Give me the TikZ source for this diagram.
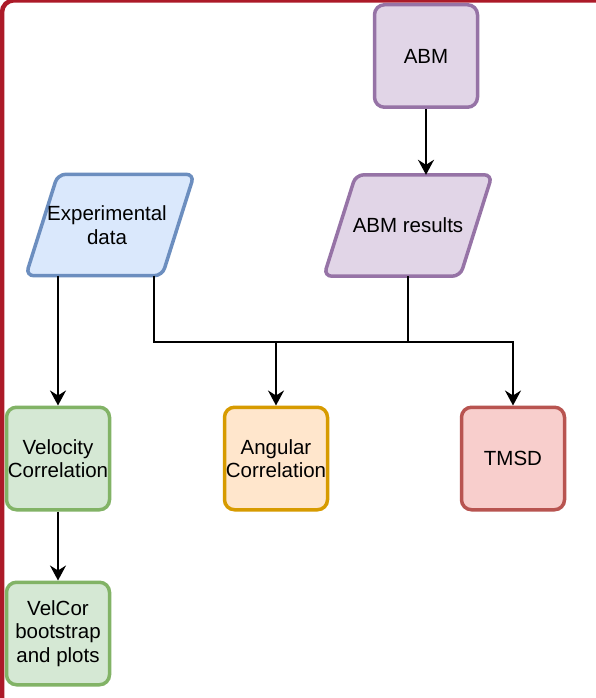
\documentclass[tikz,border=0pt]{standalone}
\usepackage{fontspec}
\setmainfont{Liberation Sans}
\usetikzlibrary{arrows.meta,calc}
\definecolor{framecol}{RGB}{172,26,40}
\definecolor{purfill}{HTML}{E1D5E7}
\definecolor{purline}{HTML}{9673A6}
\definecolor{bluefill}{HTML}{DAE8FC}
\definecolor{blueline}{HTML}{6C8EBF}
\definecolor{greenfill}{HTML}{D5E8D4}
\definecolor{greenline}{HTML}{82B366}
\definecolor{orfill}{HTML}{FFE6CC}
\definecolor{orline}{HTML}{D79B00}
\definecolor{redfill}{HTML}{F8CECC}
\definecolor{redline}{HTML}{B85450}
\tikzset{
  lbl/.style={font=\fontsize{20.5}{23.5}\selectfont, align=center, text=black},
  boxnode/.style={lbl, rectangle, rounded corners=10pt, minimum width=103pt, minimum height=102.5pt, line width=3.5pt, inner sep=1pt},
  datanode/.style={lbl, rectangle, minimum width=168pt, minimum height=101pt, inner sep=1pt},
  databorder/.style={line width=3.5pt, rounded corners=8pt},
  arr/.style={draw=black, line width=2pt, -{Stealth[length=15pt,width=16pt,inset=5pt]}},
  ln/.style={draw=black, line width=2pt}
}
\begin{document}
\begin{tikzpicture}[x=1pt,y=-1pt]
\useasboundingbox (0,0) rectangle (596,698);
\fill[white] (0,0) rectangle (596,698);
\begin{scope}
\clip (0,0) rectangle (596,698);
\draw[framecol, line width=4.5pt, rounded corners=12pt] (2,720) -- (2,0.3) -- (640,0.3);
\end{scope}
\node[boxnode, draw=purline, fill=purfill] (abm) at (426,56) {ABM};
\node[datanode] (res) at (408,225.5) {};
\draw[databorder, draw=purline, fill=purfill] (res.south west) -- ([xshift=32pt]res.north west) -- (res.north east) -- ([xshift=-32pt]res.south east) -- cycle;
\node[lbl] at (res) {ABM results};
\node[datanode] (exp) at (110,225) {};
\draw[databorder, draw=blueline, fill=bluefill] (exp.south west) -- ([xshift=32pt]exp.north west) -- (exp.north east) -- ([xshift=-32pt]exp.south east) -- cycle;
\node[lbl] at ([xshift=-3pt]exp) {Experimental\\data};
\node[boxnode, draw=greenline, fill=greenfill] (velo) at (58,458.5) {Velocity\\Correlation};
\node[boxnode, draw=orline, fill=orfill] (ang) at (276,458.5) {Angular\\Correlation};
\node[boxnode, draw=redline, fill=redfill] (tmsd) at (513,458.5) {TMSD};
\node[boxnode, draw=greenline, fill=greenfill] (boot) at (58,633.5) {VelCor\\bootstrap\\and plots};
\coordinate (junc) at (276,342);
\draw[arr] (abm.south) -- (abm.south |- res.north);
\draw[arr] (exp.south -| velo.north) -- (velo.north);
\draw[arr] ([xshift=44pt]exp.south) |- (junc) -| (tmsd.north);
\draw[ln] (res.south) -- (res.south |- junc);
\draw[arr] (junc) -- (ang.north);
\draw[arr] (velo.south) -- (boot.north);
\end{tikzpicture}
\end{document}
